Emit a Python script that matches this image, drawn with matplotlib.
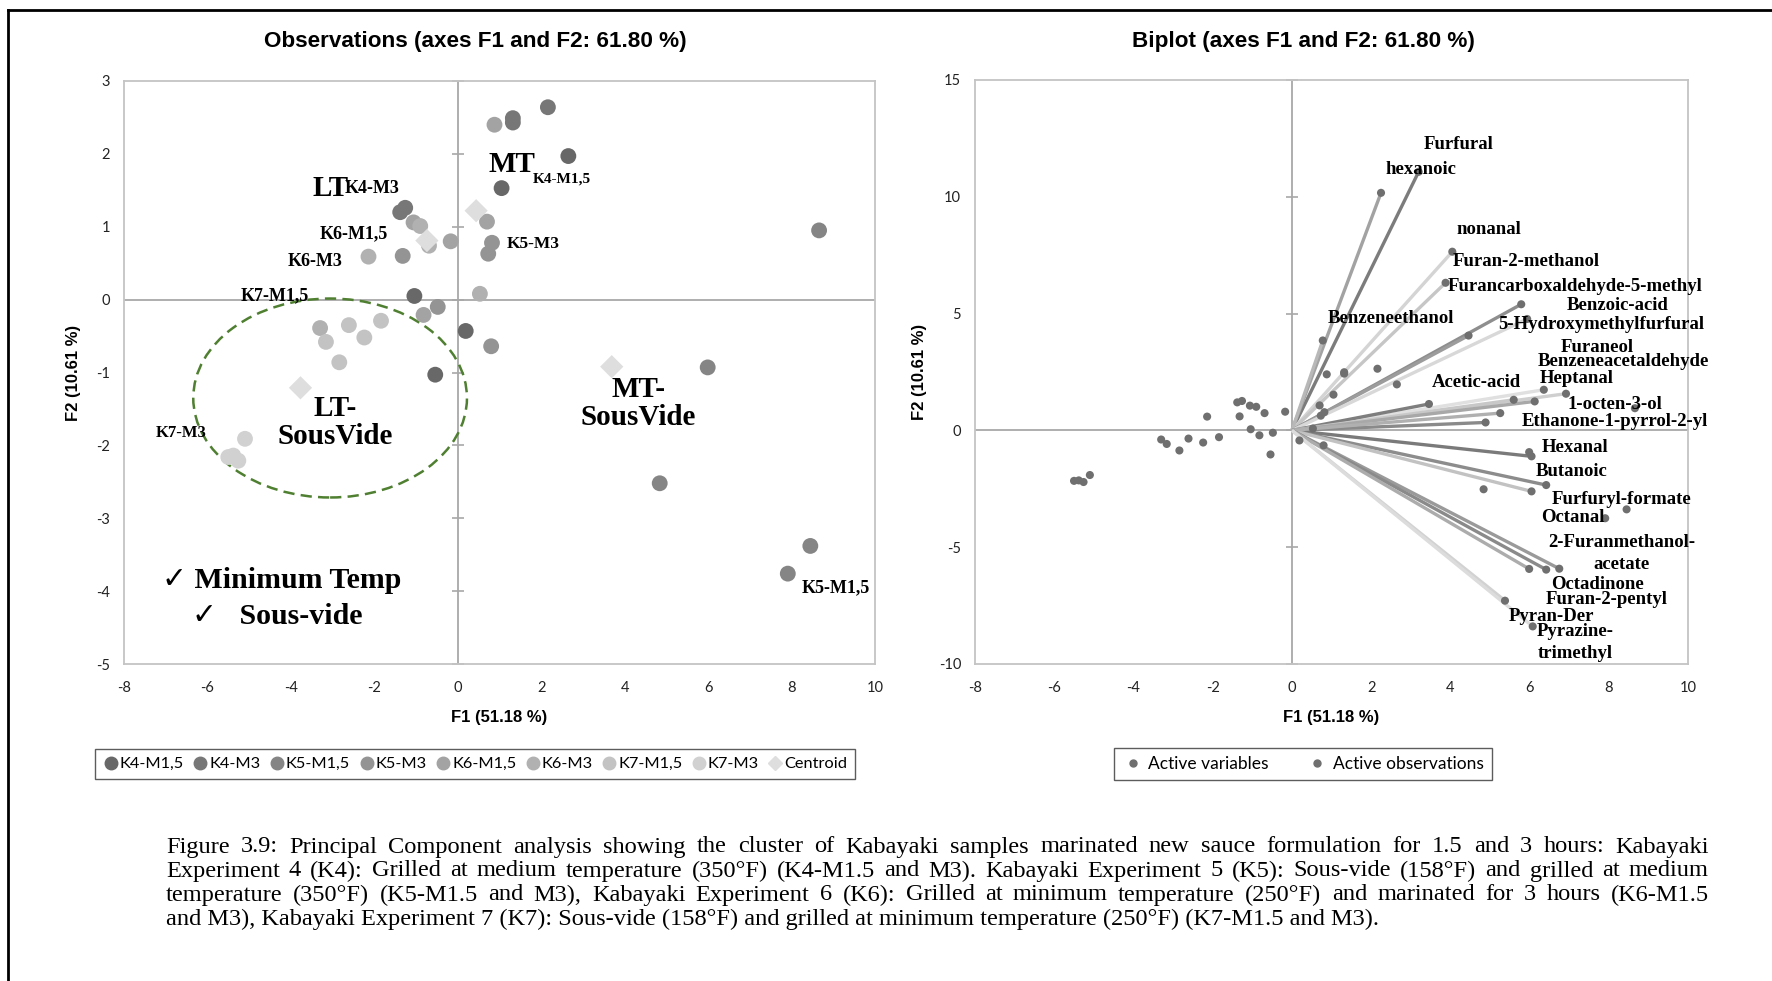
import numpy as np
import matplotlib
matplotlib.use("Agg")
import matplotlib.pyplot as plt
from matplotlib.patches import Ellipse
from matplotlib.lines import Line2D

plt.rcParams["axes.unicode_minus"] = False


# ==========================
# OBSERVATION SCORES (F1, F2)
# ==========================

series_names = ["K4-M1,5", "K4-M3", "K5-M1,5", "K5-M3",
                "K6-M1,5", "K6-M3", "K7-M1,5", "K7-M3"]

k4_m15_f1 = [1.05, 2.65, -1.04, 0.19, -0.54]
k4_m15_f2 = [1.53, 1.97, 0.05, -0.43, -1.03]
k4_m3_f1 = [1.32, 1.32, 2.16, -1.26, -1.38]
k4_m3_f2 = [2.49, 2.43, 2.64, 1.26, 1.20]
k5_m15_f1 = [8.66, 5.99, 4.84, 8.45, 7.91]
k5_m15_f2 = [0.95, -0.93, -2.52, -3.38, -3.76]
k5_m3_f1 = [0.82, 0.73, 0.80, -0.48, -1.32]
k5_m3_f2 = [0.78, 0.63, -0.64, -0.10, 0.60]
k6_m15_f1 = [0.88, 0.70, -0.17, -1.06, -0.82]
k6_m15_f2 = [2.40, 1.07, 0.80, 1.06, -0.21]
k6_m3_f1 = [-0.90, -0.69, 0.53, -2.14, -3.30]
k6_m3_f2 = [1.01, 0.74, 0.08, 0.59, -0.39]
k7_m15_f1 = [-3.16, -2.61, -2.24, -1.84, -2.84]
k7_m15_f2 = [-0.58, -0.35, -0.52, -0.29, -0.86]
k7_m3_f1 = [-5.10, -5.38, -5.26, -5.50]
k7_m3_f2 = [-1.91, -2.14, -2.21, -2.16]

centroid_f1 = [0.44, -0.74, 3.69, -3.77]
centroid_f2 = [1.22, 0.81, -0.92, -1.21]

obs_f1 = [k4_m15_f1, k4_m3_f1, k5_m15_f1, k5_m3_f1,
          k6_m15_f1, k6_m3_f1, k7_m15_f1, k7_m3_f1]
obs_f2 = [k4_m15_f2, k4_m3_f2, k5_m15_f2, k5_m3_f2,
          k6_m15_f2, k6_m3_f2, k7_m15_f2, k7_m3_f2]

# ==========================
# VARIABLE LOADINGS (biplot)
# ==========================

var_names = ["Furfural", "hexanoic", "nonanal", "Furan-2-methanol",
             "Furancarboxaldehyde-5-methyl", "Benzoic-acid",
             "5-Hydroxymethylfurfural", "Benzeneethanol", "Furaneol",
             "Benzeneacetaldehyde", "Acetic-acid", "Heptanal",
             "1-octen-3-ol", "Ethanone-1-pyrrol-2-yl", "Hexanal",
             "Butanoic", "Furfuryl-formate", "Octanal",
             "2-Furanmethanol-\nacetate", "Octadinone", "Furan-2-pentyl",
             "Pyran-Der", "Pyrazine-\ntrimethyl"]
var_f1 = [3.20, 2.25, 4.05, 3.88, 5.79, 4.46, 5.94, 0.78, 6.92, 6.36,
          3.46, 5.60, 6.13, 4.89, 6.05, 6.42, 6.05, 5.26, 6.75, 6.42,
          5.99, 5.38, 6.08]
var_f2 = [11.07, 10.17, 7.65, 6.32, 5.40, 4.06, 4.77, 3.85, 1.57, 1.74,
          1.13, 1.31, 1.24, 0.34, -1.11, -2.34, -2.61, 0.74, -5.92, -5.96,
          -5.93, -7.29, -8.39]

# line shade of each loading vector
var_colors = ["#7c7c7c", "#a2a2a2", "#d4d4d4", "#c6c6c6", "#8e8e8e",
              "#9c9c9c", "#d8d8d8", "#b8b8b8", "#cfcfcf", "#e0e0e0",
              "#7e7e7e", "#c8c8c8", "#a8a8a8", "#8a8a8a", "#7a7a7a",
              "#8c8c8c", "#c2c2c2", "#b0b0b0", "#9a9a9a", "#8a8a8a",
              "#acacac", "#d2d2d2", "#dcdcdc"]

# where each variable name is written
var_label_xy = [(4.22, 12.23), (3.26, 11.16), (4.98, 8.62), (5.91, 7.24),
                (7.15, 6.17), (8.22, 5.35), (7.82, 4.52), (2.50, 4.81),
                (7.71, 3.53), (8.37, 2.93), (4.67, 2.06), (7.18, 2.24),
                (8.16, 1.10), (8.16, 0.39), (7.15, -0.75), (7.06, -1.75),
                (8.33, -2.97), (7.09, -3.71), (8.33, -5.27), (7.71, -6.58),
                (7.94, -7.25), (6.56, -7.96), (7.15, -9.07)]

series_colors = ["#686868", "#777777", "#858585", "#949494",
                 "#a3a3a3", "#b1b1b1", "#c3c3c3", "#d1d1d1"]
centroid_color = "#dedede"
dot_color = "#6f6f6f"
axis_gray = "#a8a8a8"
frame_gray = "#c4c4c4"

# ==========================
# FIGURE / AXES
# ==========================

W, H = 1772, 981
fig = plt.figure(figsize=(W / 100, H / 100), dpi=100)


def frac(x0, y0, x1, y1):
    return [x0 / W, 1 - y1 / H, (x1 - x0) / W, (y1 - y0) / H]


ax1 = fig.add_axes(frac(124, 81, 875, 664))
ax2 = fig.add_axes(frac(975, 80, 1688, 664))

tick_font = "Lato"
serif = "Liberation Serif"

for ax, ylim, yticks in [(ax1, (-5, 3), range(-5, 4)),
                         (ax2, (-10, 15), range(-10, 16, 5))]:
    ax.set_xlim(-8, 10)
    ax.set_ylim(*ylim)
    ax.set_xticks(range(-8, 11, 2))
    ax.set_yticks(list(yticks))
    ax.tick_params(length=0, labelsize=10.5, colors="#222222")
    ax.tick_params(axis="y", pad=10)
    ax.tick_params(axis="x", pad=12)
    for lab in ax.get_xticklabels() + ax.get_yticklabels():
        lab.set_fontfamily(tick_font)
    for sp in ax.spines.values():
        sp.set_color(frame_gray)
        sp.set_linewidth(1.3)
    ax.axhline(0, color=axis_gray, lw=1.3, zorder=1)
    ax.axvline(0, color=axis_gray, lw=1.3, zorder=1)
    yt = [v for v in yticks]
    ax.plot(np.zeros(len(yt)), yt, ls="none", marker="_", ms=9,
            mew=1.2, color=axis_gray, zorder=1, clip_on=False)
    ax.set_xlabel("F1 (51.18 %)", fontsize=12, fontweight="bold",
                  family="Liberation Sans")
    ax.set_ylabel("F2 (10.61 %)", fontsize=12, fontweight="bold",
                  family="Liberation Sans")

ax1.xaxis.set_label_coords(0.5, -0.079)
ax1.yaxis.set_label_coords(-0.057, 0.5)
ax2.xaxis.set_label_coords(0.5, -0.079)
ax2.yaxis.set_label_coords(-0.067, 0.5)

# ==========================
# OBSERVATIONS PLOT
# ==========================

handles = []
for name, xs, ys, col in zip(series_names, obs_f1, obs_f2, series_colors):
    ax1.scatter(xs, ys, s=130, color=col, edgecolors="none", zorder=3)
    handles.append(Line2D([], [], ls="none", marker="o", ms=9,
                          color=col, label=name))
ax1.scatter(centroid_f1, centroid_f2, s=140, marker="D",
            color=centroid_color, edgecolors="none", zorder=3)
handles.append(Line2D([], [], ls="none", marker="D", ms=7,
                      color=centroid_color, label="Centroid"))

ax1.add_patch(Ellipse((-3.06, -1.35), 6.56, 2.73, fill=False,
                      ec="#4f7f30", lw=1.8, ls=(0, (4.5, 2.5)), zorder=2))

big_labels = [("LT", -3.05, 1.52), ("MT", 1.29, 1.86),
              ("LT-\nSousVide", -2.94, -1.68),
              ("MT-\nSousVide", 4.33, -1.43)]
for txt, x, y in big_labels:
    ax1.text(x, y, txt, family=serif, fontweight="bold", fontsize=21,
             ha="center", va="center", linespacing=1.05, zorder=4)

sample_labels = [("K4-M3", -2.06, 1.52, 13), ("K6-M1,5", -2.50, 0.91, 13),
                 ("K6-M3", -3.42, 0.53, 13), ("K7-M1,5", -4.38, 0.05, 13),
                 ("K4-M1,5", 2.49, 1.66, 11), ("K5-M3", 1.81, 0.76, 12.5),
                 ("K5-M1,5", 9.05, -3.96, 13), ("K7-M3", -6.62, -1.83, 12)]
for txt, x, y, fs in sample_labels:
    ax1.text(x, y, txt, family=serif, fontweight="bold", fontsize=fs,
             ha="center", va="center", zorder=4)

ax1.text(-4.22, -3.86, "\u2713 Minimum Temp", family=[serif, "DejaVu Sans"],
         fontweight="bold", fontsize=21.5, ha="center", va="center")
ax1.text(-4.33, -4.35, "\u2713   Sous-vide", family=[serif, "DejaVu Sans"],
         fontweight="bold", fontsize=21.5, ha="center", va="center")

# ==========================
# BIPLOT
# ==========================

for x, y, col in zip(var_f1, var_f2, var_colors):
    ax2.plot([0, x], [0, y], color=col, lw=2.4, solid_capstyle="butt",
             zorder=2)
ax2.scatter(var_f1, var_f2, s=34, color=dot_color, edgecolors="none",
            zorder=3)
all_f1 = sum(obs_f1, [])
all_f2 = sum(obs_f2, [])
ax2.scatter(all_f1, all_f2, s=34, color=dot_color, edgecolors="none",
            zorder=3)

for name, (lx, ly) in zip(var_names, var_label_xy):
    ax2.text(lx, ly, name, family=serif, fontweight="bold", fontsize=13.5,
             ha="center", va="center", linespacing=1.35, zorder=4)

# ==========================
# TITLES AND LEGENDS
# ==========================

fig.text(475 / W, 1 - 42 / H, "Observations (axes F1 and F2: 61.80 %)",
         ha="center", va="center", fontsize=16.2, fontweight="bold",
         family="Liberation Sans")
fig.text(1303 / W, 1 - 42 / H, "Biplot (axes F1 and F2: 61.80 %)",
         ha="center", va="center", fontsize=16.2, fontweight="bold",
         family="Liberation Sans")

leg1 = fig.legend(handles=handles, loc="center", ncol=9,
                  bbox_to_anchor=(475 / W, 1 - 764 / H),
                  prop={"family": tick_font, "size": 11.8},
                  handletextpad=0.05, columnspacing=0.5, handlelength=1.0,
                  frameon=True, fancybox=False, borderpad=0.45)
leg1.get_frame().set_edgecolor("#333333")
leg1.get_frame().set_linewidth(1.0)

bi_handles = [Line2D([], [], ls="none", marker="o", ms=5, color=dot_color,
                     label="Active variables"),
              Line2D([], [], ls="none", marker="o", ms=5, color=dot_color,
                     label="Active observations")]
leg2 = fig.legend(handles=bi_handles, loc="center", ncol=2,
                  bbox_to_anchor=(1303 / W, 1 - 764 / H),
                  prop={"family": tick_font, "size": 12.5},
                  handletextpad=0.3, columnspacing=2.2, handlelength=1.2,
                  frameon=True, fancybox=False, borderpad=0.45,
                  borderaxespad=0)
leg2.get_frame().set_edgecolor("#333333")
leg2.get_frame().set_linewidth(1.0)

# ==========================
# CAPTION (justified)
# ==========================

caption_lines = [
    "Figure 3.9: Principal Component analysis showing the cluster of Kabayaki "
    "samples marinated new sauce formulation for 1.5 and 3 hours: Kabayaki",
    "Experiment 4 (K4): Grilled at medium temperature (350\u00b0F) (K4-M1.5 "
    "and M3). Kabayaki Experiment 5 (K5): Sous-vide (158\u00b0F) and grilled "
    "at medium",
    "temperature (350\u00b0F) (K5-M1.5 and M3), Kabayaki Experiment 6 (K6): "
    "Grilled at minimum temperature (250\u00b0F) and marinated for 3 hours "
    "(K6-M1.5",
    "and M3), Kabayaki Experiment 7 (K7): Sous-vide (158\u00b0F) and grilled "
    "at minimum temperature (250\u00b0F) (K7-M1.5 and M3).",
]
cap_left, cap_right = 166, 1709
cap_y = [847, 871, 895, 919]

renderer = fig.canvas.get_renderer()
probe = fig.text(0, 0, caption_lines[3], family=serif, fontsize=10)
natural = probe.get_window_extent(renderer).width
probe.remove()
cap_size = 10 * 1215 / natural

for k, (line, yy) in enumerate(zip(caption_lines, cap_y)):
    words = line.split(" ")
    if k == len(caption_lines) - 1:
        fig.text(cap_left / W, 1 - yy / H, line, family=serif,
                 fontsize=cap_size, va="center", ha="left")
        continue
    texts = [fig.text(0, 1 - yy / H, w, family=serif, fontsize=cap_size,
                      va="center", ha="left") for w in words]
    widths = [t.get_window_extent(renderer).width for t in texts]
    gap = (cap_right - cap_left - sum(widths)) / (len(words) - 1)
    xpos = cap_left
    for t, wd in zip(texts, widths):
        t.set_x(xpos / W)
        xpos += wd + gap

# outer frame of the figure panel
fig.add_artist(Line2D([8 / W, 8 / W], [0, 1 - 10 / H], color="black", lw=2))
fig.add_artist(Line2D([8 / W, 1], [1 - 10 / H, 1 - 10 / H], color="black",
                      lw=2))

fig.savefig("out.png", dpi=100)
